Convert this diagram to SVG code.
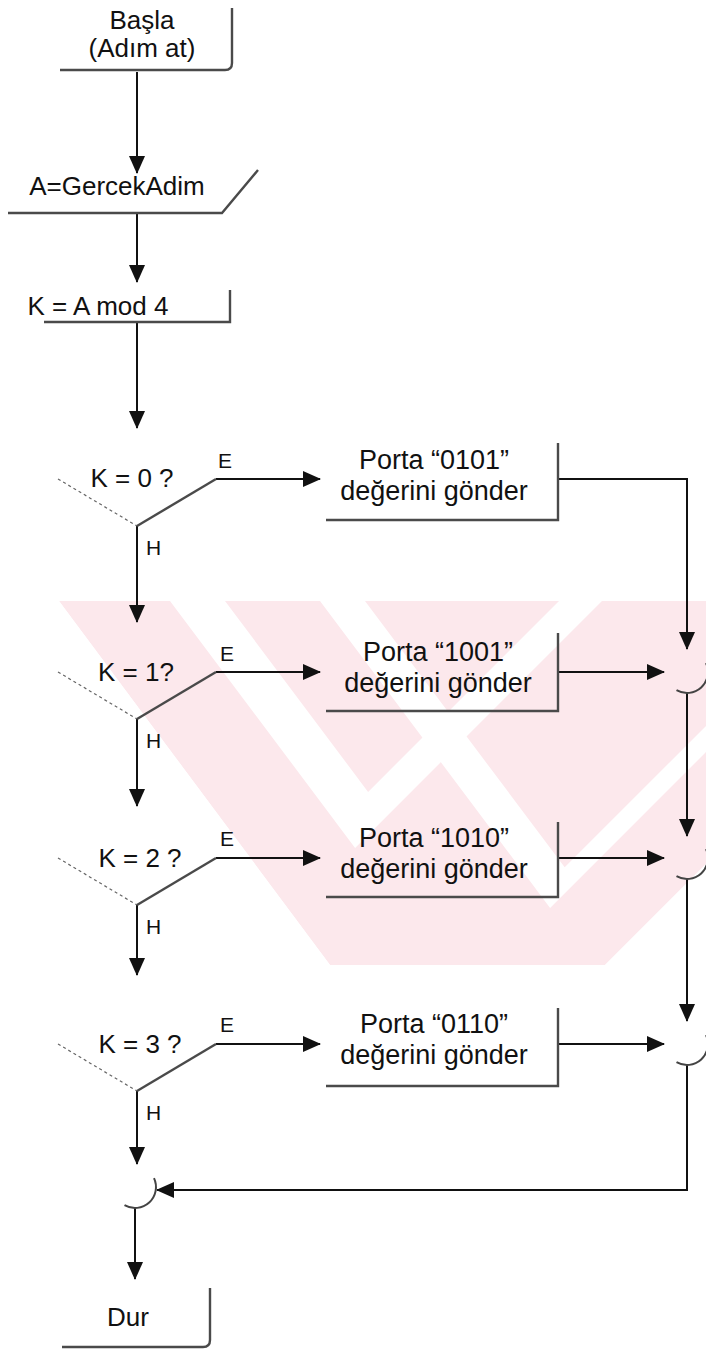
<svg xmlns="http://www.w3.org/2000/svg" width="706" height="1350" viewBox="0 0 706 1350">
<style>
.t{font-family:"Liberation Sans",Arial,sans-serif;font-size:26px;fill:#111;text-anchor:middle}
.bt{font-family:"Liberation Sans",Arial,sans-serif;font-size:27px;fill:#111;text-anchor:middle}
.lbl{font-family:"Liberation Sans",Arial,sans-serif;font-size:21px;fill:#111}
.edge{fill:none;stroke:#4a4a4a;stroke-width:2.4}
.conn{fill:none;stroke:#111;stroke-width:2}
.dot{fill:none;stroke:#666;stroke-width:1.2;stroke-dasharray:3 3}
.arc{fill:none;stroke:#444;stroke-width:2}
.wm{fill:#fce8ec}
.wg{fill:#fff}
</style>
<defs>
<marker id="ah" markerWidth="18" markerHeight="16" refX="17" refY="8" orient="auto" markerUnits="userSpaceOnUse"><path d="M0,0 L18,8 L0,16 z" fill="#111"/></marker>
<clipPath id="wmclip"><polygon points="59,601 706,601 706,864 605,965 330,965"/></clipPath>
</defs>
<rect width="706" height="1350" fill="#fff"/>
<g id="watermark" clip-path="url(#wmclip)">
<polygon class="wm" points="59,601 706,601 706,864 605,965 330,965"/>
<polygon class="wg" points="170,601 355.1,847.9 602,601 559,601 368.1,791.9 225,601"/>
<polygon class="wg" points="320,601 550.1,907.9 857,601 831,601 564.7,867.3 365,601"/>
</g>
<g id="connectors">
<path class="conn" d="M137,72 V173" marker-end="url(#ah)"/>
<path class="conn" d="M137,213 V282" marker-end="url(#ah)"/>
<path class="conn" d="M137,322 V428" marker-end="url(#ah)"/>
<path class="conn" d="M216,479 H320" marker-end="url(#ah)"/>
<path class="conn" d="M137,526 V622" marker-end="url(#ah)"/>
<path class="conn" d="M216,672 H320" marker-end="url(#ah)"/>
<path class="conn" d="M137,719 V806" marker-end="url(#ah)"/>
<path class="conn" d="M216,858 H320" marker-end="url(#ah)"/>
<path class="conn" d="M137,905 V975" marker-end="url(#ah)"/>
<path class="conn" d="M216,1044 H320" marker-end="url(#ah)"/>
<path class="conn" d="M137,1091 V1164" marker-end="url(#ah)"/>
<path class="conn" d="M558,479 H687 V649" marker-end="url(#ah)"/>
<path class="conn" d="M558,672 H664" marker-end="url(#ah)"/>
<path class="conn" d="M687,693 V836" marker-end="url(#ah)"/>
<path class="conn" d="M558,858 H664" marker-end="url(#ah)"/>
<path class="conn" d="M687,879 V1021" marker-end="url(#ah)"/>
<path class="conn" d="M558,1044 H664" marker-end="url(#ah)"/>
<path class="conn" d="M687,1065 V1190 H157" marker-end="url(#ah)"/>
<path class="conn" d="M135,1208 V1279" marker-end="url(#ah)"/>
</g>
<g id="start">
<path class="edge" d="M232,8 V63 Q232,70 225,70 H60"/>
<text class="t" x="142" y="29">Başla</text>
<text class="t" x="142" y="57">(Adım at)</text>
</g>
<g id="input">
<path class="edge" d="M8,213 H222 L258,170"/>
<text class="t" x="117" y="195">A=GercekAdim</text>
</g>
<g id="mod">
<path class="edge" d="M230,290 V322 H44"/>
<text class="t" x="98" y="315">K = A mod 4</text>
</g>
<g id="dec0">
<path class="dot" d="M58,479 L137,526"/>
<path class="edge" d="M137,526 L216,479"/>
<text class="t" x="132" y="487">K = 0 ?</text>
<text class="lbl" x="218" y="468">E</text>
<text class="lbl" x="146" y="555">H</text>
</g>
<g id="box0">
<path class="edge" d="M558,443 V520 H326"/>
<text class="bt" x="434" y="469">Porta “0101”</text>
<text class="bt" x="434" y="500">değerini gönder</text>
</g>
<g id="dec1">
<path class="dot" d="M58,672 L137,719"/>
<path class="edge" d="M137,719 L216,672"/>
<text class="t" x="136" y="681">K = 1?</text>
<text class="lbl" x="220" y="661">E</text>
<text class="lbl" x="146" y="748">H</text>
</g>
<g id="box1">
<path class="edge" d="M558,633 V711 H326"/>
<text class="bt" x="438" y="661">Porta “1001”</text>
<text class="bt" x="438" y="692">değerini gönder</text>
</g>
<g id="dec2">
<path class="dot" d="M58,858 L137,905"/>
<path class="edge" d="M137,905 L216,858"/>
<text class="t" x="140" y="867">K = 2 ?</text>
<text class="lbl" x="220" y="846">E</text>
<text class="lbl" x="146" y="934">H</text>
</g>
<g id="box2">
<path class="edge" d="M558,822 V897 H326"/>
<text class="bt" x="434" y="847">Porta “1010”</text>
<text class="bt" x="434" y="878">değerini gönder</text>
</g>
<g id="dec3">
<path class="dot" d="M58,1044 L137,1091"/>
<path class="edge" d="M137,1091 L216,1044"/>
<text class="t" x="140" y="1053">K = 3 ?</text>
<text class="lbl" x="220" y="1032">E</text>
<text class="lbl" x="146" y="1120">H</text>
</g>
<g id="box3">
<path class="edge" d="M558,1008 V1086 H326"/>
<text class="bt" x="434" y="1033">Porta “0110”</text>
<text class="bt" x="434" y="1064">değerini gönder</text>
</g>
<g id="j1"><path class="arc" d="M676.5,690.2 A21,21 0 0 0 706,663.1"/></g>
<g id="j2"><path class="arc" d="M676.5,876.2 A21,21 0 0 0 706,849.1"/></g>
<g id="j3"><path class="arc" d="M676.5,1062.2 A21,21 0 0 0 706,1035.1"/></g>
<g id="j4"><path class="arc" d="M124.5,1205.2 A21,21 0 0 0 154,1178.1"/></g>
<g id="stop">
<path class="edge" d="M210,1288 V1340 Q210,1347 203,1347 H62"/>
<text class="t" x="128" y="1326">Dur</text>
</g>
</svg>
